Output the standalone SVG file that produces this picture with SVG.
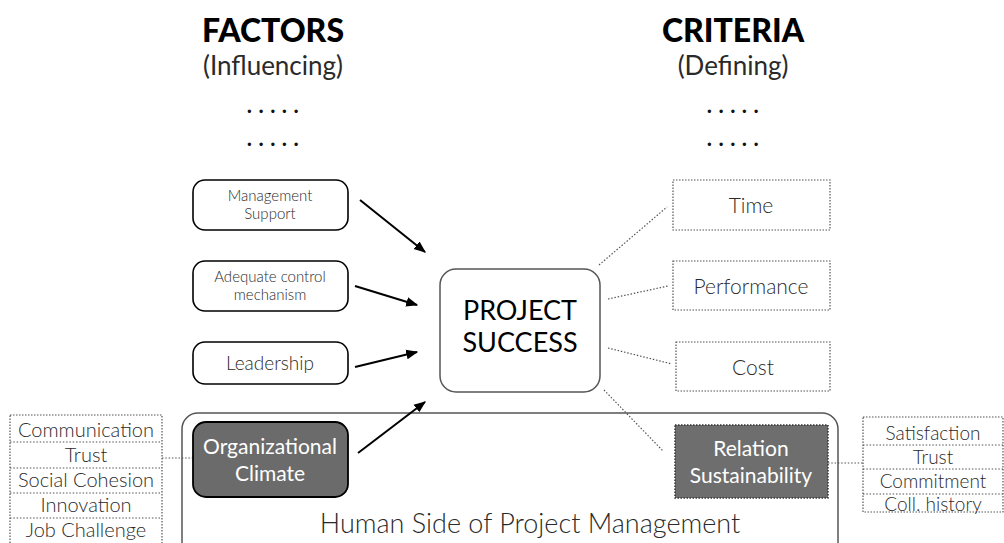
<svg xmlns="http://www.w3.org/2000/svg" width="1004" height="543" viewBox="0 0 1004 543">
<style>
text{font-family:Lato,"Open Sans","Liberation Sans",sans-serif;font-weight:300;fill:#2a2a2a;text-anchor:middle}
.box{fill:#fff;stroke:#000;stroke-width:1.6}
.dbox{fill:#fff;stroke:#555;stroke-width:1.2;stroke-dasharray:1.5 1.5}
.dl{fill:none;stroke:#555;stroke-width:1.2;stroke-dasharray:1.5 1.8}
.arr{stroke:#000;stroke-width:2;fill:none;marker-end:url(#ah)}
.t16{font-size:15px}
.t20{font-size:20px}
.dots{font-size:22px;letter-spacing:6.5px;font-weight:700;fill:#111}
</style>
<defs>
<marker id="ah" viewBox="0 0 10 10" refX="9" refY="5" markerWidth="6" markerHeight="6" orient="auto" markerUnits="strokeWidth">
<path d="M0,1 L10,5 L0,9 z" fill="#000"/>
</marker>
</defs>
<g id="headers">
<text x="273" y="42" style="font-size:32px;font-weight:900;fill:#000">FACTORS</text>
<text x="273" y="75" style="font-size:26px;font-weight:400">(Influencing)</text>
<text class="dots" x="276" y="113">.....</text>
<text class="dots" x="276" y="146">.....</text>
<text x="733" y="42" style="font-size:32px;font-weight:900;fill:#000">CRITERIA</text>
<text x="733" y="75" style="font-size:26px;font-weight:400">(Defining)</text>
<text class="dots" x="736" y="113">.....</text>
<text class="dots" x="736" y="146">.....</text>
</g>
<g id="human-side">
<rect x="182" y="413" width="656" height="150" rx="16" fill="none" stroke="#555" stroke-width="1.5"/>
<text x="530" y="533" style="font-size:27px">Human Side of Project Management</text>
</g>
<g id="connectors">
<line class="arr" x1="360" y1="200" x2="425" y2="252"/>
<line class="arr" x1="355" y1="286" x2="417" y2="305"/>
<line class="arr" x1="355" y1="367" x2="417" y2="352"/>
<line class="arr" x1="358" y1="453" x2="425" y2="402"/>
<line class="dl" x1="599" y1="265" x2="667" y2="207"/>
<line class="dl" x1="608" y1="299" x2="668" y2="286"/>
<line class="dl" x1="608" y1="348" x2="672" y2="364"/>
<line class="dl" x1="604" y1="390" x2="663" y2="451"/>
<line class="dl" x1="162" y1="458" x2="193" y2="458"/>
<line class="dl" x1="828" y1="463" x2="863" y2="463"/>
</g>
<g id="management-support">
<rect class="box" x="193" y="180" width="155" height="50" rx="12"/>
<text class="t16" x="270" y="201">Management</text>
<text class="t16" x="270" y="219">Support</text>
</g>
<g id="adequate-control">
<rect class="box" x="193" y="261" width="155" height="50" rx="12"/>
<text class="t16" x="270" y="282">Adequate control</text>
<text class="t16" x="270" y="300">mechanism</text>
</g>
<g id="leadership">
<rect class="box" x="193" y="342" width="155" height="42" rx="12"/>
<text x="270" y="370" style="font-size:19px">Leadership</text>
</g>
<g id="organizational-climate">
<rect x="193" y="422" width="155" height="75" rx="13" fill="#6b6b6b" stroke="#000" stroke-width="1.8"/>
<text x="270" y="454" style="font-size:21px;fill:#fff;font-weight:400">Organizational</text>
<text x="270" y="481" style="font-size:21px;fill:#fff;font-weight:400">Climate</text>
</g>
<g id="project-success">
<rect x="440" y="269" width="160" height="123" rx="16" fill="#fff" stroke="#555" stroke-width="1.5"/>
<text x="520" y="320" style="font-size:27px;fill:#000;font-weight:400">PROJECT</text>
<text x="520" y="352" style="font-size:27px;fill:#000;font-weight:400">SUCCESS</text>
</g>
<g id="time">
<rect class="dbox" x="673" y="180" width="157" height="50"/>
<text x="751" y="213" style="font-size:21px">Time</text>
</g>
<g id="performance">
<rect class="dbox" x="673" y="261" width="157" height="49"/>
<text x="751" y="294" style="font-size:21px">Performance</text>
</g>
<g id="cost">
<rect class="dbox" x="676" y="342" width="154" height="49"/>
<text x="753" y="375" style="font-size:21px">Cost</text>
</g>
<g id="relation-sustainability">
<rect x="675" y="425" width="153" height="73" fill="#6e6e6e" stroke="#333" stroke-width="1.5" stroke-dasharray="1.5 1.5"/>
<text x="751" y="456" style="font-size:21px;fill:#fff;font-weight:400">Relation</text>
<text x="751" y="483" style="font-size:21px;fill:#fff;font-weight:400">Sustainability</text>
</g>
<g id="org-climate-list">
<rect class="dbox" x="10" y="415" width="152" height="140"/>
<line class="dl" x1="10" y1="442" x2="162" y2="442"/>
<line class="dl" x1="10" y1="468" x2="162" y2="468"/>
<line class="dl" x1="10" y1="493" x2="162" y2="493"/>
<line class="dl" x1="10" y1="518" x2="162" y2="518"/>
<text class="t20" x="86" y="437">Communication</text>
<text class="t20" x="86" y="462">Trust</text>
<text class="t20" x="86" y="487">Social Cohesion</text>
<text class="t20" x="86" y="512">Innovation</text>
<text class="t20" x="86" y="537">Job Challenge</text>
</g>
<g id="relation-list">
<rect class="dbox" x="863" y="417" width="140" height="95"/>
<line class="dl" x1="863" y1="445" x2="1003" y2="445"/>
<line class="dl" x1="863" y1="469" x2="1003" y2="469"/>
<line class="dl" x1="863" y1="494" x2="1003" y2="494"/>
<text x="933" y="440" style="font-size:19px">Satisfaction</text>
<text x="933" y="464" style="font-size:19px">Trust</text>
<text x="933" y="488" style="font-size:19px">Commitment</text>
<text x="933" y="511" style="font-size:19px">Coll. history</text>
</g>
</svg>
